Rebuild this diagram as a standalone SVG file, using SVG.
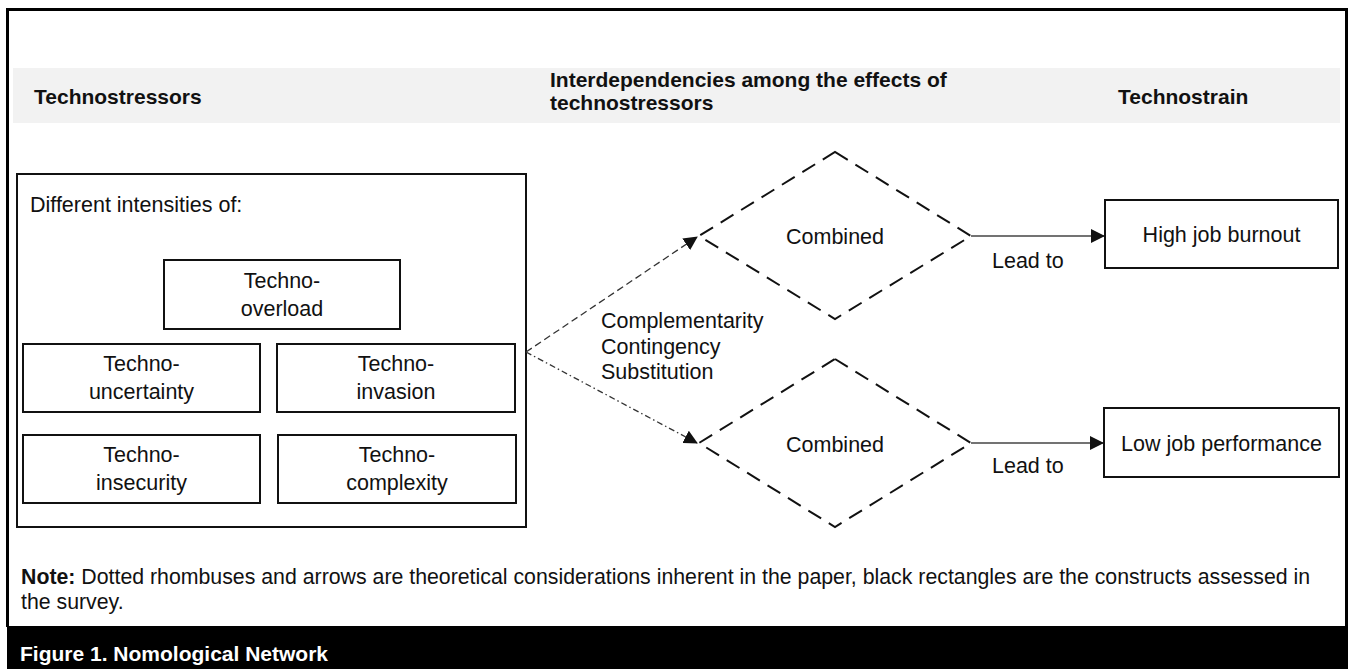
<svg xmlns="http://www.w3.org/2000/svg" width="1353" height="669" viewBox="0 0 1353 669">
<defs>
<style>
.t{font-family:"Liberation Sans",Arial,sans-serif;font-size:21.5px;fill:#111}
.b{font-family:"Liberation Sans",Arial,sans-serif;font-size:21px;font-weight:bold;fill:#111}
.c{text-anchor:middle}
.box{fill:#fff;stroke:#111;stroke-width:2}
.dia{fill:none;stroke:#111;stroke-width:2;stroke-dasharray:15 9}
</style>
<marker id="ah2" markerWidth="14" markerHeight="14" refX="13" refY="7" orient="auto" markerUnits="userSpaceOnUse" viewBox="0 0 14 14">
<path d="M0,0 L14,7 L0,14 Z" fill="#111"/>
</marker>
</defs>
<rect x="0" y="0" width="1353" height="669" fill="#fff"/>
<g id="frame">
<path d="M7.5,627 V9.5 H1346.5 V627" fill="none" stroke="#000" stroke-width="3"/>
<rect x="7" y="626" width="1341" height="43" fill="#000"/>
<rect x="13" y="68" width="1327" height="55" fill="#f2f2f2"/>
</g>
<g id="headers">
<text class="b" x="34" y="104">Technostressors</text>
<text class="b" x="550" y="87">Interdependencies among the effects of</text>
<text class="b" x="550" y="110">technostressors</text>
<text class="b" x="1118" y="104">Technostrain</text>
</g>
<g id="technostressors-box">
<rect class="box" x="17" y="174" width="509" height="353"/>
<text class="t" x="30" y="212">Different intensities of:</text>
</g>
<g id="techno-overload">
<rect class="box" x="164" y="260" width="236" height="69"/>
<text class="t c" x="282" y="288">Techno-</text>
<text class="t c" x="282" y="316">overload</text>
</g>
<g id="techno-uncertainty">
<rect class="box" x="23" y="344" width="237" height="68"/>
<text class="t c" x="141.5" y="371">Techno-</text>
<text class="t c" x="141.5" y="399">uncertainty</text>
</g>
<g id="techno-invasion">
<rect class="box" x="277" y="344" width="238" height="68"/>
<text class="t c" x="396" y="371">Techno-</text>
<text class="t c" x="396" y="399">invasion</text>
</g>
<g id="techno-insecurity">
<rect class="box" x="23" y="435" width="237" height="68"/>
<text class="t c" x="141.5" y="462">Techno-</text>
<text class="t c" x="141.5" y="490">insecurity</text>
</g>
<g id="techno-complexity">
<rect class="box" x="278" y="435" width="238" height="68"/>
<text class="t c" x="397" y="462">Techno-</text>
<text class="t c" x="397" y="490">complexity</text>
</g>
<g id="combined-1">
<path class="dia" d="M835,152 L971,236 L835,319 L699,236 Z"/>
<text class="t c" x="835" y="244">Combined</text>
</g>
<g id="combined-2">
<path class="dia" d="M835,359 L971,443 L835,527 L699,443 Z"/>
<text class="t c" x="835" y="452">Combined</text>
</g>
<g id="high-job-burnout">
<rect class="box" x="1105" y="200" width="233" height="68"/>
<text class="t c" x="1221.5" y="242">High job burnout</text>
</g>
<g id="low-job-performance">
<rect class="box" x="1104" y="408" width="235" height="69"/>
<text class="t c" x="1221.5" y="451">Low job performance</text>
</g>
<g id="connectors">
<path d="M526,352 L697,237" fill="none" stroke="#333" stroke-width="1.3" stroke-dasharray="7 4" marker-end="url(#ah2)"/>
<path d="M526,352 L697,443" fill="none" stroke="#333" stroke-width="1.3" stroke-dasharray="6 3 1.5 3" marker-end="url(#ah2)"/>
<path d="M971,236 H1104" fill="none" stroke="#444" stroke-width="1.3" marker-end="url(#ah2)"/>
<path d="M971,443 H1103" fill="none" stroke="#444" stroke-width="1.3" marker-end="url(#ah2)"/>
<text class="t" x="601" y="328">Complementarity</text>
<text class="t" x="601" y="354">Contingency</text>
<text class="t" x="601" y="379">Substitution</text>
<text class="t" x="992" y="268">Lead to</text>
<text class="t" x="992" y="473">Lead to</text>
</g>
<g id="note">
<text class="t" x="21" y="584" style="font-size:21.3px"><tspan font-weight="bold">Note:</tspan> Dotted rhombuses and arrows are theoretical considerations inherent in the paper, black rectangles are the constructs assessed in</text>
<text class="t" x="21" y="609" style="font-size:21.3px">the survey.</text>
<text class="b" x="20" y="661" style="fill:#fff">Figure 1. Nomological Network</text>
</g>
</svg>
